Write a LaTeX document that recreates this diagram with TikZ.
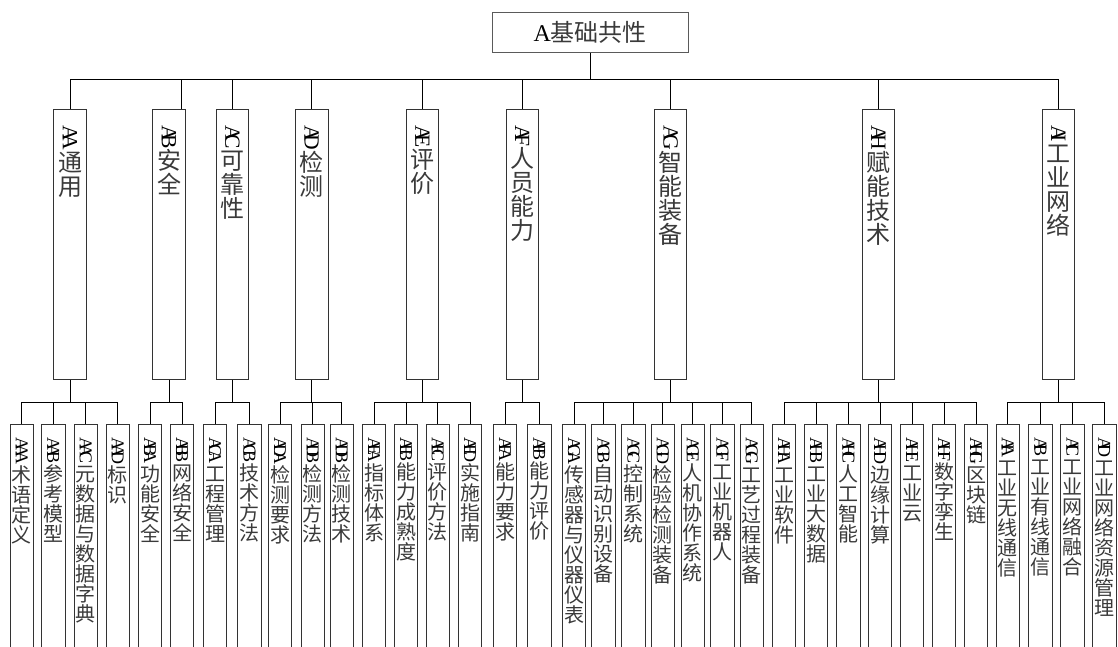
\documentclass[tikz,border=0pt]{standalone}
\usepackage{fontspec}
\usepackage{xcolor}
\usepackage{graphicx}
\usepackage{tikz}
\usetikzlibrary{positioning}
\setmainfont{Liberation Serif}
\newfontfamily\cjk{Noto Sans CJK SC}
\definecolor{boxgray}{HTML}{5A5A5A}
\definecolor{textgray}{HTML}{3A3A3A}

\makeatletter
% code letters squeezed together, turned a quarter clockwise
\newcommand\codetxt[1]{\rotatebox{-90}{\scalebox{.9}{\code@loop#1\relax}}}
\def\code@loop#1#2{#1\ifx#2\relax\else\kern-.32em\expandafter\code@loop\expandafter#2\fi}
% one character under the other
\newcommand\cjkstack[1]{\cjk@loop#1\relax}
\def\cjk@loop#1{\ifx#1\relax\else\hbox to 1em{\hss\vrule height .88em depth .12em width 0pt{\cjk\color{textgray}#1}\hss}\expandafter\cjk@loop\fi}
\newcommand\vlabel[2]{\vtop{\offinterlineskip\vskip0pt
  \hbox to 1em{\hss\codetxt{#1}\hss}\cjkstack{#2}}}
\makeatother

\begin{document}
\begin{tikzpicture}[
    x=1pt, y=-1pt,
    rootbox/.style={draw=boxgray, line width=0.9pt, minimum width=196pt, minimum height=40pt, inner sep=0pt, font=\fontsize{24pt}{24pt}\selectfont},
    catbox/.style={draw=black!80, line width=0.9pt, anchor=north, minimum width=32.5pt, inner sep=0pt, text height=16pt, text depth=253.7pt, font=\fontsize{24pt}{24pt}\selectfont},
    leafbox/.style={draw=black!80, line width=0.9pt, anchor=north, minimum width=23.3pt, inner sep=0pt, text height=13pt, text depth=213pt, font=\fontsize{20pt}{20pt}\selectfont},
    link/.style={black, line width=0.9pt},
]
    \useasboundingbox (0,0) rectangle (1118,646);
    \clip (0,0) rectangle (1118,646);

    \node[rootbox] (root) at (590.3,32.3) {A{\cjk\color{textgray}基础共性}};

    \coordinate (topbus) at (0,79);
    \coordinate (lowbus) at (0,402);

    % second level
    \node[catbox] (aa) at (70,109.3) {\vlabel{AA}{通用}};
    \node[catbox] (ab) at (169,109.3) {\vlabel{AB}{安全}};
    \node[catbox] (ac) at (232.5,109.3) {\vlabel{AC}{可靠性}};
    \node[catbox] (ad) at (311.7,109.3) {\vlabel{AD}{检测}};
    \node[catbox] (ae) at (422.5,109.3) {\vlabel{AE}{评价}};
    \node[catbox] (af) at (522.3,109.3) {\vlabel{AF}{人员能力}};
    \node[catbox] (ag) at (670.6,109.3) {\vlabel{AG}{智能装备}};
    \node[catbox] (ah) at (878.5,109.3) {\vlabel{AH}{赋能技术}};
    \node[catbox] (ai) at (1058.5,109.3) {\vlabel{AI}{工业网络}};

    % third level
    \node[leafbox] (aaa) at (21.7,424) {\vlabel{AAA}{术语定义}};
    \node[leafbox] (aab) at (53.4,424) {\vlabel{AAB}{参考模型}};
    \node[leafbox] (aac) at (85.7,424) {\vlabel{AAC}{元数据与数据字典}};
    \node[leafbox] (aad) at (117.7,424) {\vlabel{AAD}{标识}};
    \node[leafbox] (aba) at (150,424) {\vlabel{ABA}{功能安全}};
    \node[leafbox] (abb) at (182,424) {\vlabel{ABB}{网络安全}};
    \node[leafbox] (aca) at (215,424) {\vlabel{ACA}{工程管理}};
    \node[leafbox] (acb) at (249.4,424) {\vlabel{ACB}{技术方法}};
    \node[leafbox] (ada) at (280,424) {\vlabel{ADA}{检测要求}};
    \node[leafbox] (adb) at (312.7,424) {\vlabel{ADB}{检测方法}};
    \node[leafbox] (adc) at (341.7,424) {\vlabel{ADB}{检测技术}};
    \node[leafbox] (aea) at (374,424) {\vlabel{AEA}{指标体系}};
    \node[leafbox] (aeb) at (406,424) {\vlabel{AEB}{能力成熟度}};
    \node[leafbox] (aec) at (437.7,424) {\vlabel{AEC}{评价方法}};
    \node[leafbox] (aed) at (470,424) {\vlabel{AED}{实施指南}};
    \node[leafbox] (afa) at (505,424) {\vlabel{AFA}{能力要求}};
    \node[leafbox] (afb) at (539.4,424) {\vlabel{AFB}{能力评价}};
    \node[leafbox] (aga) at (574,424) {\vlabel{AGA}{传感器与仪器仪表}};
    \node[leafbox] (agb) at (603.4,424) {\vlabel{AGB}{自动识别设备}};
    \node[leafbox] (agc) at (633.4,424) {\vlabel{AGC}{控制系统}};
    \node[leafbox] (agd) at (662.7,424) {\vlabel{AGD}{检验检测装备}};
    \node[leafbox] (age) at (692.7,424) {\vlabel{AGE}{人机协作系统}};
    \node[leafbox] (agf) at (722.4,424) {\vlabel{AGF}{工业机器人}};
    \node[leafbox] (agg) at (751.7,424) {\vlabel{AGG}{工艺过程装备}};
    \node[leafbox] (aha) at (784,424) {\vlabel{AHA}{工业软件}};
    \node[leafbox] (ahb) at (816,424) {\vlabel{AHB}{工业大数据}};
    \node[leafbox] (ahc) at (848.4,424) {\vlabel{AHC}{人工智能}};
    \node[leafbox] (ahd) at (880,424) {\vlabel{AHD}{边缘计算}};
    \node[leafbox] (ahe) at (912,424) {\vlabel{AHE}{工业云}};
    \node[leafbox] (ahf) at (944,424) {\vlabel{AHF}{数字孪生}};
    \node[leafbox] (ahg) at (976,424) {\vlabel{AHG}{区块链}};
    \node[leafbox] (aia) at (1007.7,424) {\vlabel{AIA}{工业无线通信}};
    \node[leafbox] (aib) at (1040.4,424) {\vlabel{AIB}{工业有线通信}};
    \node[leafbox] (aic) at (1072.4,424) {\vlabel{AIC}{工业网络融合}};
    \node[leafbox] (aid) at (1104.4,424) {\vlabel{AID}{工业网络资源管理}};

    % root to second level
    \draw[link] (root.south) -- (root.south |- topbus) -| (aa.north)
        (root.south |- topbus) -| ([xshift=12.8pt]ab.north)
        (root.south |- topbus) -| (ac.north)
        (root.south |- topbus) -| (ad.north)
        (root.south |- topbus) -| (ae.north)
        (root.south |- topbus) -| (af.north)
        (root.south |- topbus) -| (ag.north)
        (root.south |- topbus) -| (ah.north)
        (root.south |- topbus) -| (ai.north);

    % second level to third level
    \draw[link] (aa.south) -- (aa.south |- lowbus) -| (aaa.north)
        (aa.south |- lowbus) -| (aab.north)
        (aa.south |- lowbus) -| (aac.north)
        (aa.south |- lowbus) -| (aad.north);
    \draw[link] (ab.south) -- (ab.south |- lowbus) -| (aba.north)
        (ab.south |- lowbus) -| (abb.north);
    \draw[link] (ac.south) -- (ac.south |- lowbus) -| (aca.north)
        (ac.south |- lowbus) -| (acb.north);
    \draw[link] (ad.south) -- (ad.south |- lowbus) -| (ada.north)
        (ad.south |- lowbus) -| (adb.north)
        (ad.south |- lowbus) -| (adc.north);
    \draw[link] (ae.south) -- (ae.south |- lowbus) -| (aea.north)
        (ae.south |- lowbus) -| (aeb.north)
        (ae.south |- lowbus) -| (aec.north)
        (ae.south |- lowbus) -| (aed.north);
    \draw[link] (af.south) -- (af.south |- lowbus) -| (afa.north)
        (af.south |- lowbus) -| (afb.north);
    \draw[link] (ag.south) -- (ag.south |- lowbus) -| (aga.north)
        (ag.south |- lowbus) -| (agb.north)
        (ag.south |- lowbus) -| (agc.north)
        (ag.south |- lowbus) -| (agd.north)
        (ag.south |- lowbus) -| (age.north)
        (ag.south |- lowbus) -| (agf.north)
        (ag.south |- lowbus) -| (agg.north);
    \draw[link] (ah.south) -- (ah.south |- lowbus) -| (aha.north)
        (ah.south |- lowbus) -| (ahb.north)
        (ah.south |- lowbus) -| (ahc.north)
        (ah.south |- lowbus) -| (ahd.north)
        (ah.south |- lowbus) -| (ahe.north)
        (ah.south |- lowbus) -| (ahf.north)
        (ah.south |- lowbus) -| (ahg.north);
    \draw[link] (ai.south) -- (ai.south |- lowbus) -| (aia.north)
        (ai.south |- lowbus) -| (aib.north)
        (ai.south |- lowbus) -| (aic.north)
        (ai.south |- lowbus) -| (aid.north);
\end{tikzpicture}
\end{document}
